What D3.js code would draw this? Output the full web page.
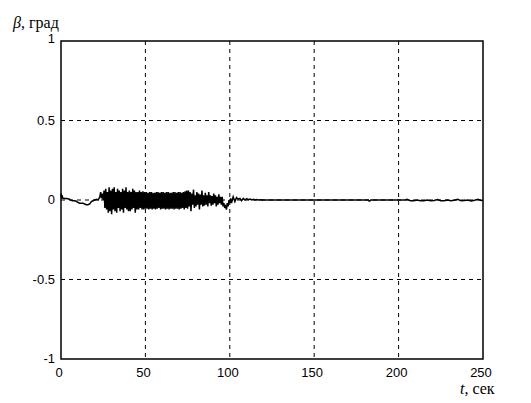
<!DOCTYPE html>
<meta charset="utf-8">
<script src="https://d3js.org/d3.v7.min.js"></script>
<style>
  body { margin: 0; background: #fff; }
  svg { display: block; }
  .tick-label { font-family: "Liberation Sans", Arial, sans-serif; font-size: 13px; fill: #000; }
  .axis-title { font-family: "Liberation Serif", "Times New Roman", serif; font-size: 16px; fill: #000; }
</style>
<div id="chart"></div>
<script>
// axis ticks
var xTicks = [0, 50, 100, 150, 200, 250];
var yTicks = [-1, -0.5, 0, 0.5, 1];

// start of the record, t in s, beta in deg
var tEarly = [0, 0.3, 0.6, 1, 2, 3, 4, 5, 6, 7, 8, 9, 10, 11, 12, 13, 14, 15, 16, 17, 18, 19, 20, 21, 22, 23, 23.5, 24, 24.5, 25];
var betaEarly = [0.04, 0.01, 0.03, 0.012, 0.01, 0.01, 0.008, 0.005, -0.002, -0.005, -0.005, -0.008, -0.015, -0.02, -0.02, -0.02, -0.025, -0.03, -0.03, -0.025, -0.01, -0.005, 0.0, 0.005, 0.0, 0.02, 0.05, 0.01, 0.04, 0.0];

// oscillating part, sampled every 0.5 s from 25.5 s
var burstStart = 25.5;
var burstStep = 0.5;
var betaBurst = [
  0.06, -0.05, 0.07, -0.06, 0.05, -0.08, 0.08, -0.07, 0.06, -0.09,
  0.07, -0.06, 0.08, -0.07, 0.05, -0.08, 0.07, -0.05, 0.06, -0.07,
  0.05, -0.06, 0.07, -0.08, 0.06, -0.05, 0.08, -0.06, 0.05, -0.07,
  0.06, -0.07, 0.05, -0.06, 0.07, -0.05, 0.06, -0.08, 0.05, -0.06,
  0.05, -0.06, 0.06, -0.05, 0.05, -0.06, 0.055, -0.06, 0.05, -0.055,
  0.05, -0.055, 0.045, -0.06, 0.05, -0.055, 0.05, -0.06, 0.045, -0.055,
  0.045, -0.06, 0.05, -0.055, 0.05, -0.05, 0.045, -0.06, 0.05, -0.055,
  0.05, -0.055, 0.045, -0.06, 0.05, -0.055, 0.05, -0.06, 0.045, -0.055,
  0.045, -0.055, 0.05, -0.06, 0.05, -0.055, 0.045, -0.055, 0.05, -0.06,
  0.05, -0.055, 0.045, -0.05, 0.05, -0.06, 0.055, -0.05, 0.06, -0.055,
  0.06, -0.04, 0.05, -0.07, 0.04, -0.03, 0.065, -0.05, 0.03, -0.04,
  0.05, -0.03, 0.04, -0.06, 0.035, -0.03, 0.06, -0.04, 0.03, -0.035,
  0.045, -0.03, 0.03, -0.04, 0.05, -0.02, 0.03, -0.035, 0.025, -0.03,
  0.04, -0.02, 0.03, -0.04, 0.02, -0.03, 0.035, -0.02, 0.02, -0.03,
  0.02, -0.04, -0.02, -0.05, -0.03, -0.06, -0.02, -0.04, 0.0, -0.02
];

// decay and settled tail
var tLate = [100.5, 101, 102, 103, 104, 105, 106, 107, 108, 109, 110, 111, 112, 113, 114, 115, 116, 117, 118, 120, 150, 160, 182, 182.5, 183, 183.5, 200, 204, 205, 207, 209, 211, 213, 215, 217, 219, 221, 223, 225, 227, 229, 231, 233, 235, 237, 239, 241, 243, 245, 247, 249, 250];
var betaLate = [0.01, -0.02, 0.02, -0.01, 0.015, 0.005, 0.01, -0.005, 0.01, 0.0, 0.008, 0.002, 0.006, 0.0, 0.004, 0.0, 0.003, 0.0, 0.002, 0, 0, 0, 0, -0.006, -0.006, 0, 0, 0, 0.005, -0.004, -0.004, 0, -0.005, -0.004, 0, -0.005, -0.003, 0.003, -0.005, -0.005, 0, -0.005, -0.002, 0.004, -0.005, -0.003, 0, -0.006, -0.002, 0.005, -0.003, 0];

var width = 531, height = 403;
var margin = { top: 41, right: 48, bottom: 44, left: 61 };

var points = [];
tEarly.forEach(function (t, i) { points.push([t, betaEarly[i]]); });
betaBurst.forEach(function (b, i) { points.push([burstStart + i * burstStep, b]); });
tLate.forEach(function (t, i) { points.push([t, betaLate[i]]); });

var x = d3.scaleLinear().domain([0, 250]).range([margin.left, width - margin.right]);
var y = d3.scaleLinear().domain([-1, 1]).range([height - margin.bottom, margin.top]);

var svg = d3.select("#chart").append("svg")
  .attr("width", width)
  .attr("height", height);

svg.append("rect").attr("width", width).attr("height", height).attr("fill", "#fff");

// grid
svg.append("g").selectAll("line").data(xTicks.slice(1, -1)).enter().append("line")
  .attr("x1", function (d) { return x(d); }).attr("x2", function (d) { return x(d); })
  .attr("y1", y(1)).attr("y2", y(-1))
  .attr("stroke", "#000").attr("stroke-width", 1).attr("stroke-dasharray", "4,4");
svg.append("g").selectAll("line").data(yTicks.slice(1, -1)).enter().append("line")
  .attr("x1", x(0)).attr("x2", x(250))
  .attr("y1", function (d) { return y(d); }).attr("y2", function (d) { return y(d); })
  .attr("stroke", "#000").attr("stroke-width", 1).attr("stroke-dasharray", "4,4");

// signal
svg.append("path")
  .datum(points)
  .attr("fill", "none")
  .attr("stroke", "#000")
  .attr("stroke-width", 1.5)
  .attr("d", d3.line().x(function (d) { return x(d[0]); }).y(function (d) { return y(d[1]); }));

// frame
svg.append("rect")
  .attr("x", x(0)).attr("y", y(1))
  .attr("width", x(250) - x(0)).attr("height", y(-1) - y(1))
  .attr("fill", "none").attr("stroke", "#000").attr("stroke-width", 1.5);

// tick labels
svg.append("g").selectAll("text").data(xTicks).enter().append("text")
  .attr("class", "tick-label")
  .attr("x", function (d) { return x(d) - 2; })
  .attr("y", y(-1) + 18)
  .attr("text-anchor", "middle")
  .text(function (d) { return d; });
svg.append("g").selectAll("text").data(yTicks).enter().append("text")
  .attr("class", "tick-label")
  .attr("x", x(0) - 6)
  .attr("y", function (d) { return y(d) + (d === 1 ? 2 : 4); })
  .attr("text-anchor", "end")
  .text(function (d) { return d; });

// axis titles
var yt = svg.append("text").attr("class", "axis-title").attr("x", 13).attr("y", 28);
yt.append("tspan").attr("font-style", "italic").text("β");
yt.append("tspan").text(", град");

var xt = svg.append("text").attr("class", "axis-title").attr("x", 460).attr("y", 394);
xt.append("tspan").attr("font-style", "italic").text("t");
xt.append("tspan").text(", сек");
</script>
